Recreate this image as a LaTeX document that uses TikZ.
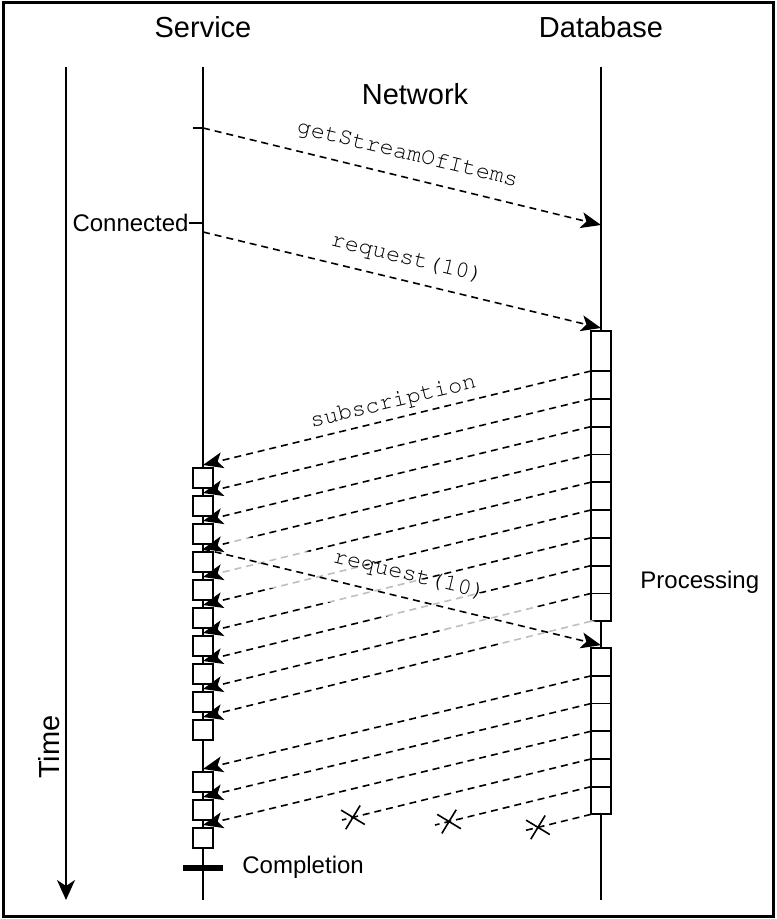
\documentclass[tikz,border=0pt]{standalone}
\usepackage{fontspec}
\usepackage[T1,TU]{fontenc}
\setmainfont{Liberation Sans}
\usetikzlibrary{arrows.meta,positioning,calc,shapes.misc}
\newcommand{\codefont}{\fontencoding{T1}\fontfamily{pcr}\selectfont}

\begin{document}
\begin{tikzpicture}[x=0.5pt,y=-0.5pt,
  hdr/.style={font=\fontsize{14.5}{16}\selectfont},
  note/.style={font=\fontsize{12}{14}\selectfont,inner sep=0pt},
  life/.style={line width=0.9pt},
  flow/.style={dash pattern=on 3.5pt off 2.5pt,line width=0.8pt},
  msg/.style={flow,-{Stealth[length=10pt,width=8pt,inset=2.5pt]}},
  lbl/.style={font=\codefont\fontsize{11.8}{13}\selectfont,sloped,inner sep=0pt},
  svcbox/.style={draw,line width=0.9pt,fill=white,minimum width=10pt,
                 minimum height=10pt,inner sep=0pt,outer sep=0pt},
  dbcell/.style={draw,line width=0.9pt,fill=white,minimum width=10pt,
                 inner sep=0pt,outer sep=0pt},
  lost/.style={draw,solid,cross out,line width=0.8pt,minimum size=9pt,
               inner sep=0pt,sloped},
  casing/.style={draw=white,opacity=0.75,line width=22pt}]

\useasboundingbox (0,0) rectangle (776,919);
\draw[line width=1.5pt] (3,3) rectangle (773,916);

% ------------- headers -------------
\node[hdr] (svc) at (203,27) {Service};
\node[hdr] (db) at (601,27) {Database};
\node[hdr] (net) at (415,94) {Network};

% ------------- lifelines -------------
\coordinate (svcTop) at (203,67);
\coordinate (svcEnd) at (203,900);
\coordinate (dbTop) at (601,67);
\coordinate (dbEnd) at (601,900);
\coordinate (timeTop) at (66,67);
\coordinate (timeEnd) at (66,900);
\draw[life] (svcTop) -- (svcEnd);
\draw[life] (dbTop) -- (dbEnd);
\draw[life,-{Stealth[length=10pt,width=9pt,inset=3pt]}] (timeTop) -- (timeEnd);
\node[hdr,rotate=90] (time) at (49,747) {Time};

% ------------- activation boxes -------------
\node[dbcell,minimum height=20pt] (b1c0) at (601,351) {};
\foreach \i [count=\p from 0] in {1,...,9}
  \node[dbcell,minimum height=13.9pt,below=0pt of b1c\p] (b1c\i) {};
\node[dbcell,minimum height=13.85pt] (b2c0) at (601,662) {};
\foreach \i [count=\p from 0] in {1,...,5}
  \node[dbcell,minimum height=13.85pt,below=0pt of b2c\p] (b2c\i) {};
\foreach \k in {1,...,10}
  \node[svcbox] (s\k) at (203,{478+28*(\k-1)}) {};
\foreach \k/\y in {11/782,12/810,13/838}
  \node[svcbox] (s\k) at (203,\y) {};

% ------------- handshake -------------
\coordinate (gsStart) at (203,128);
\coordinate (gsEnd) at (601,225);
\draw[life] (gsStart) -- ++(-10,0);
\draw[msg] (gsStart) -- node[lbl,above=6.5pt] (gsLbl) {getStreamOfItems} (gsEnd);

\coordinate (connTick) at (203,223);
\node[note,anchor=east] (conn) at (189,223) {Connected};
\draw[life] (conn.east) -- (connTick);
\coordinate (rqStart) at (203,232);
\draw[msg] (rqStart) -- node[lbl,above=6pt] (rqLbl) {request(10)}
  ([yshift=1.5pt]b1c0.north);

% ------------- items -------------
\draw[msg] (b1c0.south west) -- node[lbl,above=3.2pt] (subLbl) {subscription}
  ([yshift=1.5pt]s1.north);
\foreach \k [count=\p from 1] in {2,...,10}
  \draw[msg] (b1c\p.south west) -- ([yshift=1.5pt]s\k.north);
\foreach \k [count=\p from 0] in {11,12,13}
  \draw[msg] (b2c\p.south west) -- ([yshift=1.5pt]s\k.north);

% lost after completion
\coordinate (lost1) at (342,820);
\coordinate (lost2) at (435,825);
\coordinate (lost3) at (523,831);
\draw[flow] (b2c3.south west) -- node[lost,pos=0.956] (x1) {} (lost1);
\draw[flow] (b2c4.south west) -- node[lost,pos=0.91] (x2) {} (lost2);
\draw[flow] (b2c5.south west) -- node[lost,pos=0.78] (x3) {} (lost3);

% second request
\draw[casing,shorten <=12pt,shorten >=6pt]
  ([yshift=1.5pt]s4.north) -- ([yshift=1.5pt]b2c0.north);
\draw[msg] ([yshift=1.5pt]s4.north) -- node[lbl,above=6.6pt,pos=0.505] (rq2Lbl)
  {request(10)} ([yshift=1.5pt]b2c0.north);

% ------------- notes -------------
\coordinate (done) at (203,868);
\draw[line width=3pt] ([xshift=-10pt]done) -- ([xshift=10pt]done);
\node[note,anchor=west] (comp) at (242,867) {Completion};
\node[note,anchor=west] (proc) at (640,582) {Processing};

\end{tikzpicture}
\end{document}
